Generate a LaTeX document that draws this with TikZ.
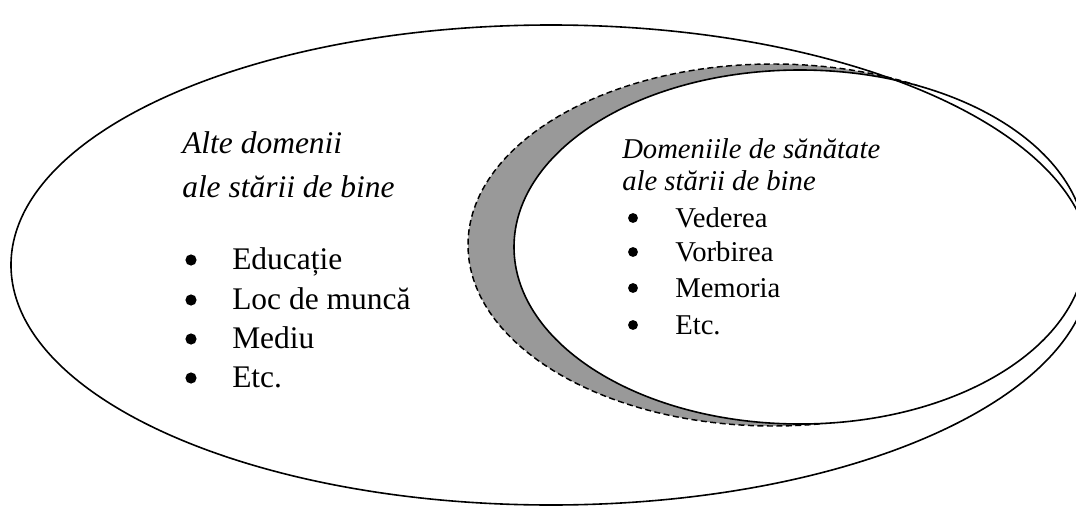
\documentclass[tikz,border=0pt]{standalone}
\usepackage{fontspec}
\setmainfont{Liberation Serif}
\begin{document}
\begin{tikzpicture}[x=0.75pt,y=-0.75pt,
  lineA/.style={line width=1.2pt},
  dashring/.style={line width=1.1pt,dash pattern=on 4.5pt off 2.6pt,fill={rgb,255:red,153;green,153;blue,153}},
  lefttxt/.style={anchor=base west,inner sep=0pt,font=\fontsize{23.6}{28}\selectfont},
  righttxt/.style={anchor=base west,inner sep=0pt,font=\fontsize{21.5}{26}\selectfont},
  lefthead/.style={lefttxt,font=\fontsize{23.6}{28}\selectfont\itshape},
  righthead/.style={righttxt,font=\fontsize{21.5}{26}\selectfont\itshape},
  lbullet/.style={circle,fill=black,inner sep=0pt,minimum size=8.4pt},
  rbullet/.style={circle,fill=black,inner sep=0pt,minimum size=7.4pt}]
\useasboundingbox (0,0) rectangle (1076,507);
\clip (0,0) rectangle (1076,507);
% shapes
\draw[dashring] (773,245) ellipse [x radius=305, y radius=181];
\draw[lineA,fill=white] (800,247) ellipse [x radius=286, y radius=177];
\draw[lineA] (551,265) ellipse [x radius=540, y radius=240];
% left texts
\node[lefthead] (lh1) at (182,153) {Alte domenii};
\node[lefthead] (lh2) at (182,197) {ale stării de bine};
\node[lbullet] (lb1) at (191,260) {};
\node[lefttxt] (lt1) at (232,269) {Educație};
\node[lbullet] (lb2) at (191,300) {};
\node[lefttxt] (lt2) at (232,309) {Loc de muncă};
\node[lbullet] (lb3) at (191,339) {};
\node[lefttxt] (lt3) at (232,348) {Mediu};
\node[lbullet] (lb4) at (191,378) {};
\node[lefttxt] (lt4) at (232,387) {Etc.};
% right texts
\node[righthead] (rh1) at (622,158) {Domeniile de sănătate};
\node[righthead] (rh2) at (622,190) {ale stării de bine};
\node[rbullet] (rb1) at (633,218) {};
\node[righttxt] (rt1) at (675,227) {Vederea};
\node[rbullet] (rb2) at (633,252) {};
\node[righttxt] (rt2) at (675,261) {Vorbirea};
\node[rbullet] (rb3) at (633,288) {};
\node[righttxt] (rt3) at (675,297) {Memoria};
\node[rbullet] (rb4) at (633,325) {};
\node[righttxt] (rt4) at (675,334) {Etc.};
\end{tikzpicture}
\end{document}
